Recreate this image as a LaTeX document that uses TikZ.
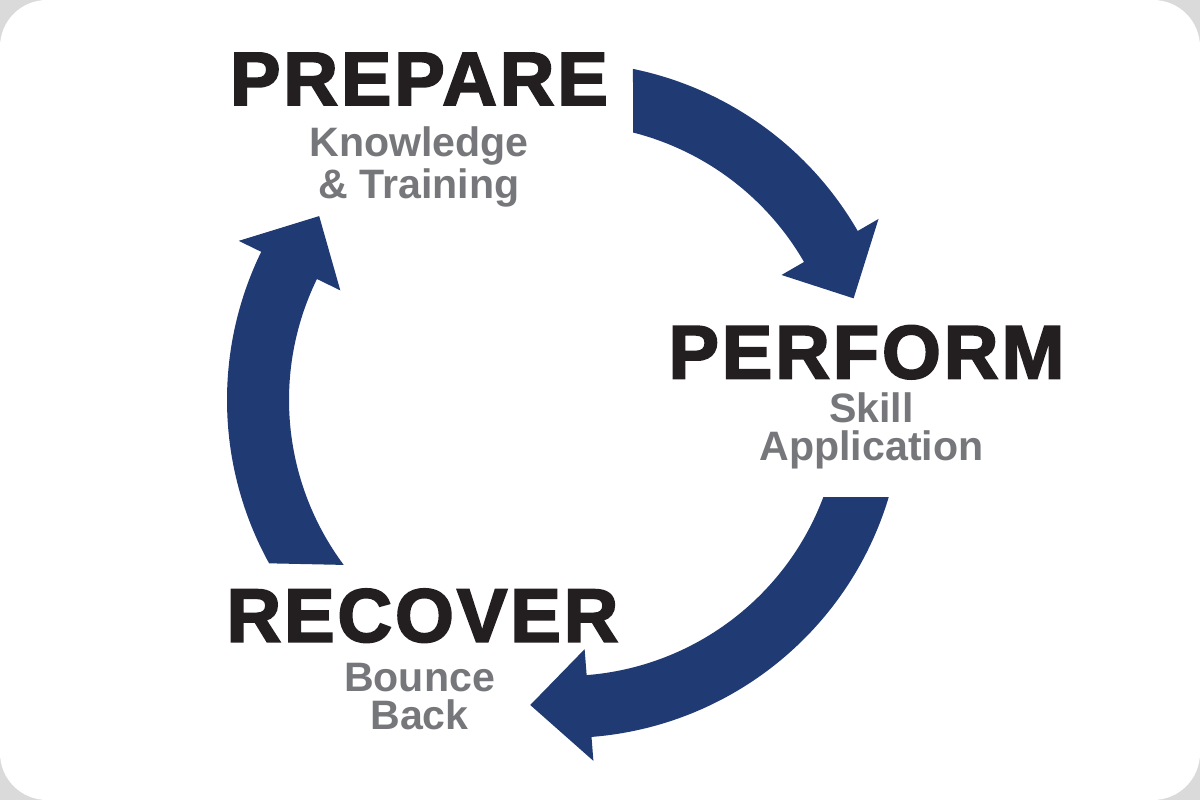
\documentclass[tikz,border=0pt]{standalone}
\usepackage{fontspec}
\setmainfont{Liberation Sans}
\newfontfamily\headfont{Liberation Sans}[BoldFeatures={FakeBold=2.6, LetterSpace=4}]
\usetikzlibrary{positioning}
\definecolor{cycleblue}{RGB}{32,58,115}
\definecolor{headblack}{RGB}{35,31,32}
\definecolor{subgray}{RGB}{118,119,122}
\definecolor{bggray}{RGB}{218,218,218}

\begin{document}
\begin{tikzpicture}[
    stage/.style={inner sep=0, anchor=base, text=headblack,
      font=\headfont\bfseries\fontsize{21.5}{24}\selectfont},
    substage/.style={inner sep=0, align=center, text=subgray,
      font=\bfseries\fontsize{11.7}{10.8}\selectfont},
    cyclearrow/.style={fill=cycleblue}
  ]
  % Fondo
  \fill[bggray] (0,0) rectangle (12,8);
  \fill[white, rounded corners=0.47cm] (0,0) rectangle (12,8);
  \useasboundingbox (0,0) rectangle (12,8);

  % Flechas del ciclo
  \begin{scope}[shift={(5.65,4)}]
    \fill[cyclearrow] (78.4:3.38) arc[start angle=78.4, end angle=30, radius=3.38]
      -- (30:3.62) -- (19.4:3.06) -- (30:2.50) -- (30:2.76)
      arc[start angle=30, end angle=75.7, radius=2.76] -- cycle;
    \fill[cyclearrow] (-16.7:3.38) arc[start angle=-16.7, end angle=-85.5, radius=3.38]
      -- (-85.5:3.62) -- (-96.5:3.07) -- (-85.5:2.50) -- (-85.5:2.76)
      arc[start angle=-85.5, end angle=-20.6, radius=2.76] -- cycle;
    \fill[cyclearrow] (208.9:3.38) arc[start angle=208.9, end angle=154, radius=3.38]
      -- (154:3.63) -- (143.2:3.07) -- (154:2.50) -- (154:2.76)
      arc[start angle=154, end angle=216.7, radius=2.76] -- cycle;
  \end{scope}

  % Etapas
  \node[stage] (prep) at (4.19,6.95) {PREPARE};
  \node[stage] (perf) at (8.665,4.217) {PERFORM};
  \node[stage] (rec) at (4.225,1.583) {RECOVER};

  % Etiquetas
  \node[substage, below=0.20cm of prep] (prepsub) {Knowledge\\\& Training};
  \node[substage, below=0.12cm of perf, xshift=0.05cm] (perfsub) {Skill\\Application};
  \node[substage, below=0.19cm of rec, xshift=-0.03cm] (recsub) {Bounce\\Back};
\end{tikzpicture}
\end{document}
